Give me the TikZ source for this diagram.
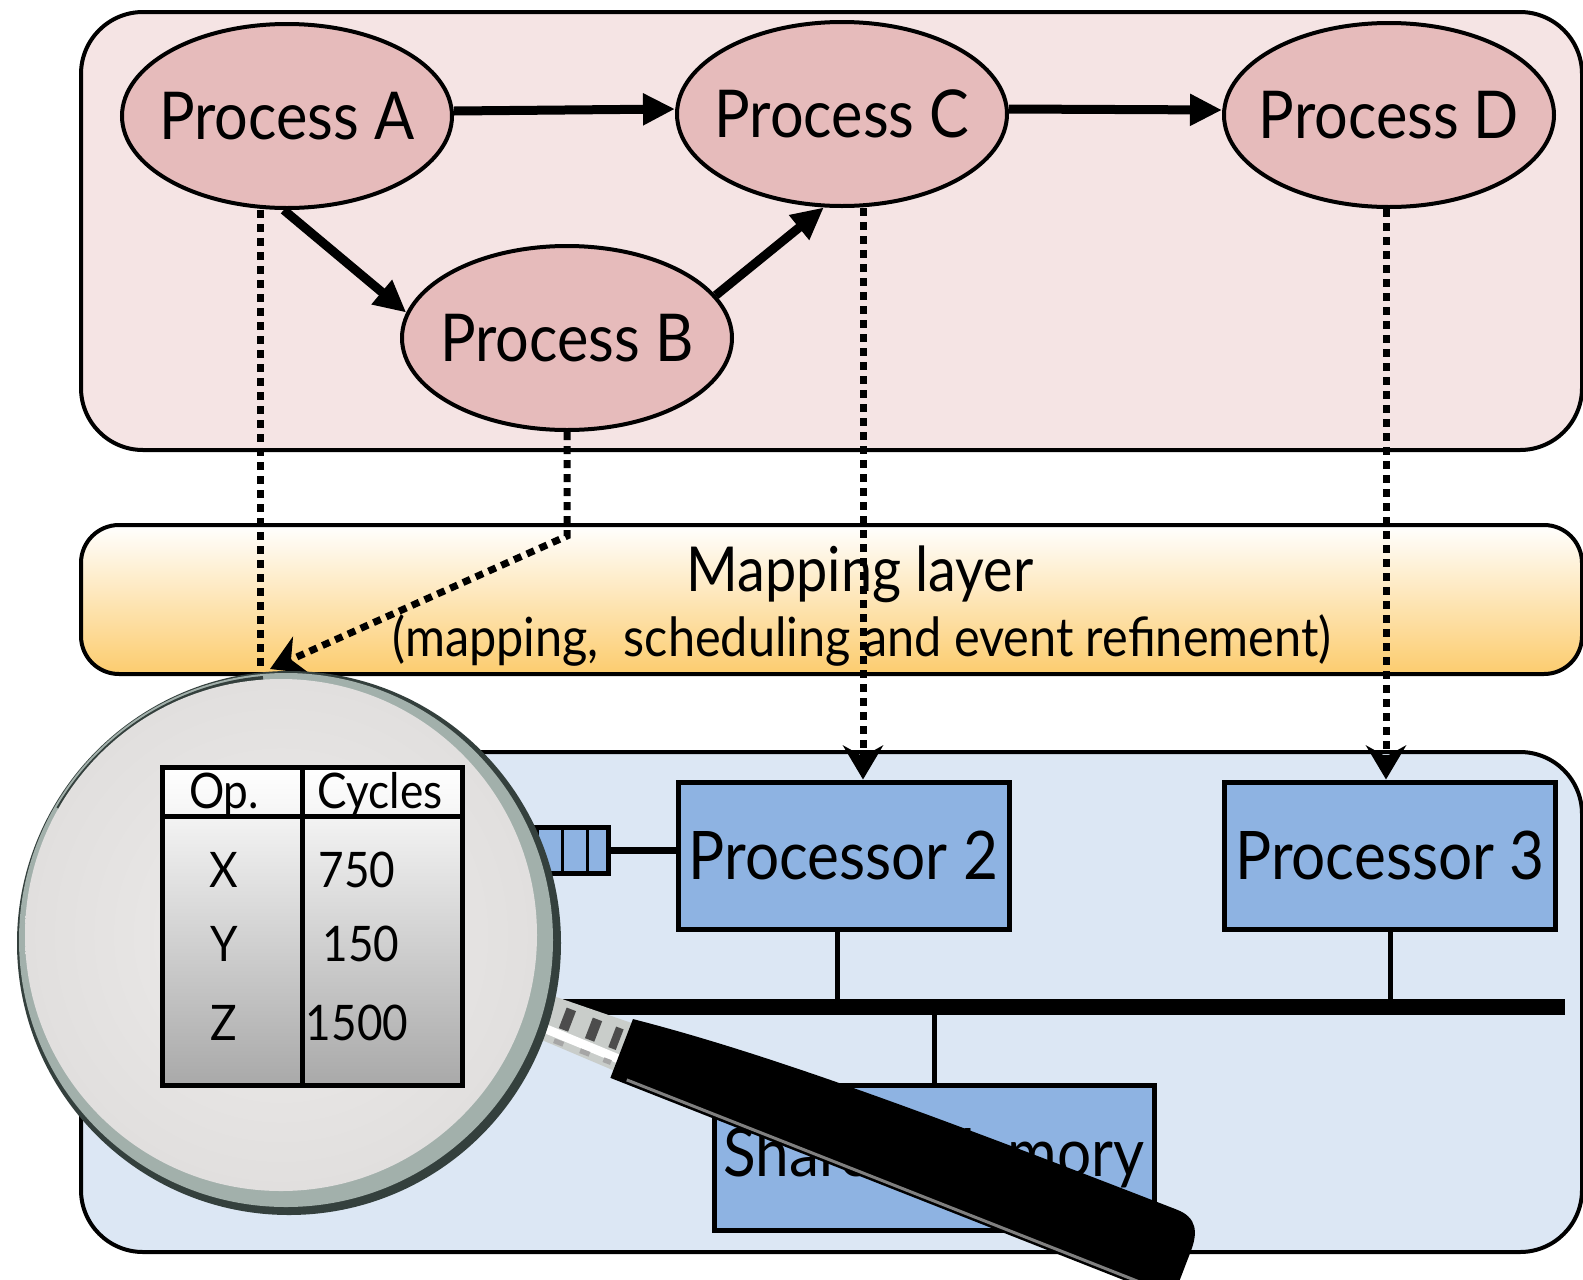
\documentclass[tikz,border=0pt]{standalone}
\usepackage{fontspec}
\setmainfont[FakeStretch=0.9]{Lato}
\usetikzlibrary{shapes.geometric,arrows.meta,calc}

\definecolor{procbg}{HTML}{F5E4E4}
\definecolor{procfill}{HTML}{E6BBBB}
\definecolor{archbg}{HTML}{DCE7F4}
\definecolor{pefill}{HTML}{8EB3E2}
\definecolor{mapbottom}{HTML}{FCCC6E}
\definecolor{glassin}{HTML}{EEECEB}
\definecolor{glassout}{HTML}{E1DFDE}
\definecolor{rimdark}{HTML}{34403D}
\definecolor{rimmid}{HTML}{A2B0AB}
\definecolor{chrome}{HTML}{C9CDCA}
\definecolor{tabtop}{HTML}{F3F3F3}
\definecolor{tabbot}{HTML}{A9A9A9}

\begin{document}
\begin{tikzpicture}[x=1pt,y=-1pt,
  layer/.style={draw=black, line width=4pt, rounded corners=62pt},
  process/.style={ellipse, draw=black, line width=4pt, fill=procfill,
    minimum width=330pt, minimum height=184pt, inner sep=0pt,
    font=\fontsize{66}{72}\selectfont},
  pe/.style={rectangle, draw=black, line width=5pt, fill=pefill, inner sep=0pt,
    font=\fontsize{67}{72}\selectfont},
  flow/.style={line width=9pt, -{Triangle[length=32pt,width=30pt]}},
  mapline/.style={line width=7pt, dash pattern=on 8pt off 6pt},
  maparrow/.style={mapline, -{Stealth[length=34pt,width=40pt,inset=11pt]}},
  wire/.style={line width=5pt},
  celltext/.style={font=\fontsize{49}{54}\selectfont, inner sep=0pt},
]
\path[use as bounding box] (0,0) rectangle (1583,1280);
\clip (0,0) rectangle (1583,1280);

% ---- the three layers ----
\draw[layer, fill=procbg] (81,12) rectangle (1582,450);
\draw[layer, rounded corners=38pt, top color=white, bottom color=mapbottom]
  (81,525) rectangle (1582,674);
\draw[layer, fill=archbg] (81,752) rectangle (1582,1252);

% ---- application processes ----
\node[process] (A) at (287,116) {\makebox[0pt]{Process A}};
\node[process] (C) at (842,114) {\makebox[0pt]{Process C}};
\node[process] (D) at (1389,115) {\makebox[0pt]{Process D}};
\node[process] (B) at (567,338) {\makebox[0pt]{Process B}};

\draw[flow] ([yshift=5pt]A.east) -- ([yshift=5pt]C.west);
\draw[flow] ([yshift=5pt]C.east) -- ([yshift=5pt]D.west);
\draw[flow] (A.-92) -- (B.171);
\draw[flow] (B.16) -- (C.-101);

% ---- architecture ----
\node[pe, minimum width=331pt, minimum height=147pt] (P2) at (843.5,855.5) {Processor 2};
\node[pe, minimum width=331pt, minimum height=147pt] (P3) at (1390,855.5) {Processor 3};
\node[pe, minimum width=440pt, minimum height=145pt] (M) at (934,1157.5) {Shared Memory};

% FIFO queue in front of processor 2
\node[pe, minimum width=96pt, minimum height=46pt] (Q) at (560,850) {};
\foreach \qx in {537,562,587}
  \draw[line width=3pt] (\qx,828) -- (\qx,872);
\draw[line width=7pt] (Q.east) -- (Q.east -| P2.west);

% shared bus
\coordinate (busL) at (470,1007);
\coordinate (busR) at (1565,1007);
\draw[line width=16pt] (busL) -- (busR);
\draw[wire] ([xshift=-6pt]P2.south) -- ([xshift=-6pt]P2.south |- busL);
\draw[wire] (P3.south) -- (P3.south |- busL);
\draw[wire] (M.north) -- (M.north |- busL);

% ---- mapping of processes onto resources ----
\coordinate (lensTop) at (270,669);
\draw[mapline] ([xshift=-27pt]A.south) -- ([xshift=-27pt]A.south |- lensTop);
\draw[maparrow] (B.south) -- ++(0,104) -- (lensTop);
\draw[maparrow] ([xshift=21pt]C.south) -- ([xshift=21pt]C.south |- P2.north);
\draw[maparrow] ([xshift=-3pt]D.south) -- ([xshift=-3pt]D.south |- P3.north);

\node[font=\fontsize{62}{68}\selectfont, inner sep=0pt] (maptitle) at (860,574) {Mapping layer};
\node[font=\fontsize{54}{60}\selectfont, inner sep=0pt] (mapsub) at (862,640)
  {(mapping,\ \ scheduling and event refinement)};

% ---- magnifying glass: handle ----
\begin{scope}[shift={(518,1006)}, rotate=-21]
  % chrome ferrule
  \fill[chrome] (0,-21) -- (116,-25) -- (116,26) -- (0,22) -- cycle;
  \fill[white] (0,6) -- (116,9) -- (116,18) -- (0,15) -- cycle;
  \foreach \ra/\rb in {16/28,46/56,74/84,99/107}
    \fill[black!70] (\ra,-16) rectangle (\rb,6);
  \foreach \ra/\rb in {16/28,46/56,74/84,99/107}
    \fill[black!35] (\ra,17) rectangle (\rb,22);
  % black grip, widening towards its end
  \fill[black] (112,-29) .. controls (250,-45) and (420,-47) .. (688,-46)
    .. controls (710,-46) and (716,-32) .. (716,-12) -- (716,22)
    .. controls (716,37) and (706,39) .. (690,39) -- (112,34) -- cycle;
  \draw[line width=3pt, color=black!50] (128,30) -- (690,35);
\end{scope}

% ---- magnifying glass: lens ----
\coordinate (lensC) at (289,943);
\fill[rimdark] (lensC) circle[radius=272pt];
\fill[rimmid] ($(lensC)+(-3,-3)$) circle[radius=267pt];
\draw[rimdark, line width=6pt] ($(lensC)+(-3,-3)$) ++(95:262pt) arc[start angle=95, end angle=150, radius=262pt];
\shade[inner color=glassin, outer color=glassout] ($(lensC)+(-8,-8)$) circle[radius=256pt];

% magnified cost table
\shade[top color=tabtop, bottom color=tabbot] (162,816) rectangle (462,1085);
\shade[top color=white, bottom color=black!4] (162,767) rectangle (462,816);
\draw[line width=5pt] (162,767) rectangle (462,1085);
\draw[line width=5pt] (162,816) -- (462,816);
\draw[line width=5pt] (302,767) -- (302,1085);

\node[celltext] (hop) at (224,795) {Op.};
\node[celltext] (hcy) at (380,795) {Cycles};
\node[celltext] (ox) at (224,870) {X};
\node[celltext] (oy) at (224,944) {Y};
\node[celltext] (oz) at (224,1023) {Z};
\node[celltext] (cx) at (357,870) {750};
\node[celltext] (cy) at (361,944) {150};
\node[celltext] (cz) at (357,1023) {1500};
\end{tikzpicture}
\end{document}
